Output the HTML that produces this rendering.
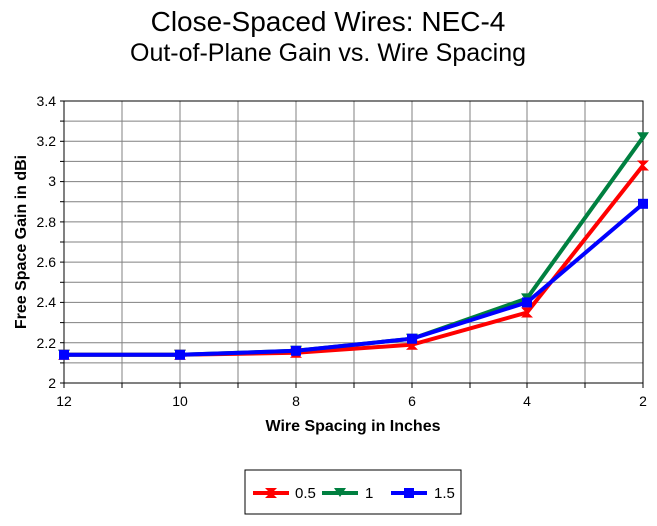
<!DOCTYPE html>
<html><head><meta charset="utf-8"><style>body{margin:0;background:#fff}</style></head><body>
<svg width="657" height="521" xmlns="http://www.w3.org/2000/svg" font-family="Liberation Sans, Arial, sans-serif">
<rect width="657" height="521" fill="#fff"/>
<text x="328" y="31" font-size="28" text-anchor="middle">Close-Spaced Wires:  NEC-4</text>
<text x="328" y="61" font-size="25" text-anchor="middle">Out-of-Plane Gain vs. Wire Spacing</text>
<g stroke="#808080" stroke-width="1">
<line x1="64" y1="121.1" x2="643" y2="121.1"/><line x1="64" y1="141.3" x2="643" y2="141.3"/>
<line x1="64" y1="161.4" x2="643" y2="161.4"/><line x1="64" y1="181.6" x2="643" y2="181.6"/>
<line x1="64" y1="201.7" x2="643" y2="201.7"/><line x1="64" y1="221.9" x2="643" y2="221.9"/>
<line x1="64" y1="242" x2="643" y2="242"/><line x1="64" y1="262.1" x2="643" y2="262.1"/>
<line x1="64" y1="282.3" x2="643" y2="282.3"/><line x1="64" y1="302.4" x2="643" y2="302.4"/>
<line x1="64" y1="322.6" x2="643" y2="322.6"/><line x1="64" y1="342.7" x2="643" y2="342.7"/>
<line x1="64" y1="362.9" x2="643" y2="362.9"/>
<line x1="122" y1="101" x2="122" y2="383"/><line x1="180" y1="101" x2="180" y2="383"/>
<line x1="238" y1="101" x2="238" y2="383"/><line x1="296" y1="101" x2="296" y2="383"/>
<line x1="354" y1="101" x2="354" y2="383"/><line x1="412" y1="101" x2="412" y2="383"/>
<line x1="470" y1="101" x2="470" y2="383"/><line x1="527" y1="101" x2="527" y2="383"/>
<line x1="585" y1="101" x2="585" y2="383"/>
</g>
<rect x="64" y="101" width="579" height="282" fill="none" stroke="#000" stroke-width="1"/>
<g stroke="#000" stroke-width="1">
<line x1="60" y1="101" x2="64" y2="101"/><line x1="60" y1="121.1" x2="64" y2="121.1"/><line x1="60" y1="141.3" x2="64" y2="141.3"/><line x1="60" y1="161.4" x2="64" y2="161.4"/><line x1="60" y1="181.6" x2="64" y2="181.6"/><line x1="60" y1="201.7" x2="64" y2="201.7"/><line x1="60" y1="221.9" x2="64" y2="221.9"/><line x1="60" y1="242" x2="64" y2="242"/><line x1="60" y1="262.1" x2="64" y2="262.1"/><line x1="60" y1="282.3" x2="64" y2="282.3"/><line x1="60" y1="302.4" x2="64" y2="302.4"/><line x1="60" y1="322.6" x2="64" y2="322.6"/><line x1="60" y1="342.7" x2="64" y2="342.7"/><line x1="60" y1="362.9" x2="64" y2="362.9"/><line x1="60" y1="383" x2="64" y2="383"/>
<line x1="64" y1="383" x2="64" y2="388"/><line x1="122" y1="383" x2="122" y2="388"/><line x1="180" y1="383" x2="180" y2="388"/><line x1="238" y1="383" x2="238" y2="388"/><line x1="296" y1="383" x2="296" y2="388"/><line x1="354" y1="383" x2="354" y2="388"/><line x1="412" y1="383" x2="412" y2="388"/><line x1="470" y1="383" x2="470" y2="388"/><line x1="527" y1="383" x2="527" y2="388"/><line x1="585" y1="383" x2="585" y2="388"/><line x1="643" y1="383" x2="643" y2="388"/>
</g>
<g font-size="14" text-anchor="end">
<text x="56" y="106">3.4</text><text x="56" y="146">3.2</text><text x="56" y="186">3</text>
<text x="56" y="227">2.8</text><text x="56" y="267">2.6</text><text x="56" y="307">2.4</text>
<text x="56" y="348">2.2</text><text x="56" y="388">2</text>
</g>
<g font-size="14" text-anchor="middle">
<text x="64" y="406">12</text><text x="180" y="406">10</text><text x="296" y="406">8</text>
<text x="412" y="406">6</text><text x="527" y="406">4</text><text x="643" y="406">2</text>
</g>
<text x="353" y="431" font-size="16" font-weight="bold" text-anchor="middle">Wire Spacing in Inches</text>
<text transform="translate(26,242) rotate(-90)" font-size="16" font-weight="bold" text-anchor="middle">Free Space Gain in dBi</text>
<defs>
<g id="mr"><path d="M-6,-5 L6,-5 L1,0 L6,5 L-6,5 L-1,0 Z" fill="red"/></g>
<g id="mg"><path d="M-6,-5 L6,-5 L0,4 Z" fill="#008040"/></g>
<g id="mb"><rect x="-5" y="-5" width="10" height="10" fill="blue"/></g>
</defs>
<polyline fill="none" stroke="red" stroke-width="4" points="64,354.8 180,354.8 296,352.8 412,344.7 527,312.5 643,165.5"/>
<polyline fill="none" stroke="#008040" stroke-width="4" points="64,354.8 180,354.8 296,350.8 412,338.7 527,298.4 643,137.3"/>
<polyline fill="none" stroke="blue" stroke-width="4" points="64,354.8 180,354.8 296,350.8 412,338.7 527,302.4 643,203.8"/>
<use href="#mr" x="64" y="354.8"/><use href="#mr" x="180" y="354.8"/><use href="#mr" x="296" y="352.8"/><use href="#mr" x="412" y="344.7"/><use href="#mr" x="527" y="312.5"/><use href="#mr" x="643" y="165.5"/>
<use href="#mg" x="64" y="354.8"/><use href="#mg" x="180" y="354.8"/><use href="#mg" x="296" y="350.8"/><use href="#mg" x="412" y="338.7"/><use href="#mg" x="527" y="298.4"/><use href="#mg" x="643" y="137.3"/>
<use href="#mb" x="64" y="354.8"/><use href="#mb" x="180" y="354.8"/><use href="#mb" x="296" y="350.8"/><use href="#mb" x="412" y="338.7"/><use href="#mb" x="527" y="302.4"/><use href="#mb" x="643" y="203.8"/>
<rect x="245" y="470" width="216" height="44" fill="#fff" stroke="#000" stroke-width="1"/>
<line x1="253" y1="493" x2="289" y2="493" stroke="red" stroke-width="4"/><use href="#mr" x="271" y="493"/>
<text x="295" y="498" font-size="15">0.5</text>
<line x1="322" y1="493" x2="358" y2="493" stroke="#008040" stroke-width="4"/><use href="#mg" x="340" y="493"/>
<text x="365" y="498" font-size="15">1</text>
<line x1="391" y1="493" x2="427" y2="493" stroke="blue" stroke-width="4"/><use href="#mb" x="409" y="493"/>
<text x="434" y="498" font-size="15">1.5</text>
</svg>
</body></html>
